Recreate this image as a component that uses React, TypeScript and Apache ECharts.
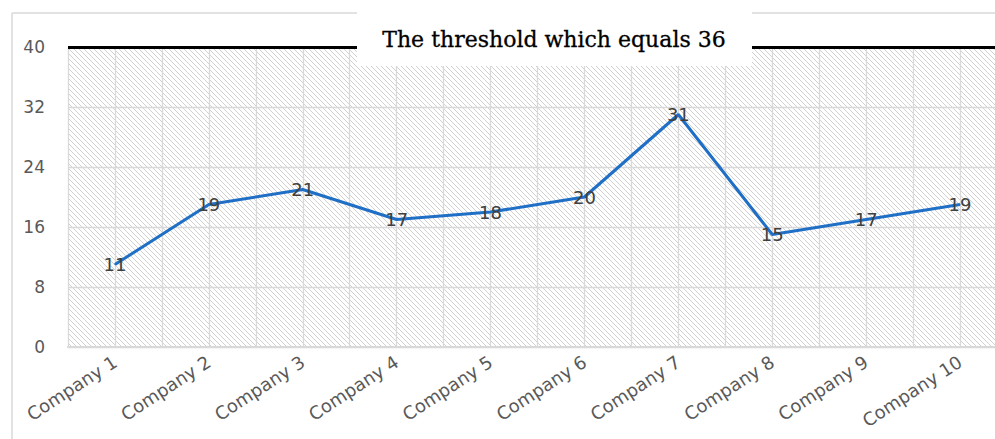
import React, { useEffect, useRef } from "react";
import * as echarts from "echarts";

const categories = [
  "Company 1", "Company 2", "Company 3", "Company 4", "Company 5",
  "Company 6", "Company 7", "Company 8", "Company 9", "Company 10",
];
const values = [11, 19, 21, 17, 18, 20, 31, 15, 17, 19];
const yTicks = [0, 8, 16, 24, 32, 40];
const thresholdLineLevel = [40];
const titleText = "The threshold which equals 36";

function makeHatch(): HTMLCanvasElement {
  const s = 5;
  const c = document.createElement("canvas");
  c.width = s;
  c.height = s;
  const ctx = c.getContext("2d")!;
  ctx.fillStyle = "#ffffff";
  ctx.fillRect(0, 0, s, s);
  ctx.strokeStyle = "#d0d0d0";
  ctx.lineWidth = 1;
  ctx.beginPath();
  ctx.moveTo(-1, -1);
  ctx.lineTo(s + 1, s + 1);
  ctx.moveTo(-1, s - 1);
  ctx.lineTo(1, s + 1);
  ctx.moveTo(s - 1, -1);
  ctx.lineTo(s + 1, 1);
  ctx.stroke();
  return c;
}

export default function App() {
  const ref = useRef<HTMLDivElement>(null);
  useEffect(() => {
    document.documentElement.style.overflow = "hidden";
    document.body.style.overflow = "hidden";
    if (!ref.current) return;
    const chart = echarts.init(ref.current, null, { renderer: "svg" });
    const hatch = makeHatch();
    const gridColor = "#d9d9d9";
    chart.setOption({
      animation: false,
      backgroundColor: "#ffffff",
      grid: {
        show: true,
        left: 68,
        top: 47,
        width: 939,
        height: 300,
        borderWidth: 0,
        backgroundColor: { image: hatch, repeat: "repeat", imageWidth: 5, imageHeight: 5 },
      },
      xAxis: [
        {
          type: "category",
          data: categories,
          boundaryGap: true,
          axisLine: { show: true, lineStyle: { color: gridColor, width: 2 } },
          axisTick: { show: false },
          splitLine: { show: false },
          axisLabel: {
            rotate: 33,
            margin: 13,
            color: "#595959",
            fontSize: 18,
            fontFamily: "DejaVu Sans",
            interval: 0,
          },
        },
        {
          type: "value",
          position: "bottom",
          min: 0,
          max: categories.length * 2,
          interval: 1,
          axisLine: { show: false },
          axisTick: { show: false },
          axisLabel: { show: false },
          splitLine: { show: true, lineStyle: { color: gridColor, width: 1.3 } },
        },
      ],
      yAxis: {
        type: "value",
        min: yTicks[0],
        max: yTicks[yTicks.length - 1],
        interval: yTicks[1] - yTicks[0],
        axisLine: { show: false },
        axisTick: { show: false },
        axisLabel: {
          margin: 23,
          color: "#595959",
          fontSize: 17,
          fontFamily: "DejaVu Sans",
        },
        splitLine: { show: true, lineStyle: { color: gridColor, width: 1.3 } },
      },
      series: [
        {
          type: "line",
          xAxisIndex: 0,
          data: values,
          symbol: "circle",
          symbolSize: 1,
          showSymbol: true,
          itemStyle: { color: "#1f6fc6" },
          lineStyle: { color: "#1f6fc6", width: 3 },
          label: {
            show: true,
            position: "inside",
            color: "#404040",
            fontSize: 18,
            fontFamily: "DejaVu Sans",
          },
          markLine: {
            silent: true,
            symbol: "none",
            label: { show: false },
            lineStyle: { color: "#000000", width: 3, type: "solid" },
            data: thresholdLineLevel.map((v) => ({ yAxis: v })),
          },
          z: 3,
        },
      ],
      graphic: [
        {
          type: "line",
          z: -10,
          shape: { x1: 12, y1: 13, x2: 1012, y2: 13 },
          style: { stroke: gridColor, lineWidth: 1.5 },
        },
        {
          type: "line",
          z: -10,
          shape: { x1: 12, y1: 13, x2: 12, y2: 439 },
          style: { stroke: gridColor, lineWidth: 1.5 },
        },
        {
          type: "rect",
          z: 100,
          shape: { x: 357, y: 0, width: 395, height: 66 },
          style: { fill: "#ffffff" },
        },
        {
          type: "text",
          z: 101,
          x: 554,
          y: 39,
          style: {
            text: titleText,
            fill: "#000000",
            font: "22px 'DejaVu Serif'",
            align: "center",
            verticalAlign: "middle",
            stroke: "#000000",
            lineWidth: 0.3,
          },
        },
      ],
    });
    return () => chart.dispose();
  }, []);
  return (
    <div
      style={{
        position: "absolute",
        left: 0,
        top: 0,
        width: 995,
        height: 439,
        overflow: "hidden",
      }}
    >
      <div ref={ref} style={{ width: 1012, height: 439 }} />
    </div>
  );
}
